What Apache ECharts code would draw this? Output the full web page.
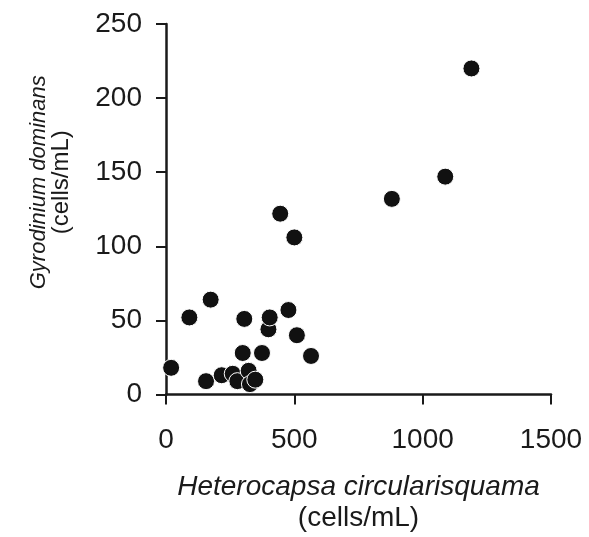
<!DOCTYPE html>
<html>
<head>
<meta charset="utf-8">
<script src="https://cdn.jsdelivr.net/npm/echarts@6/dist/echarts.min.js"></script>
<style>
  html, body { margin: 0; padding: 0; background: #fff; }
  #chart { width: 589px; height: 537px; }
</style>
</head>
<body>
<div id="chart"></div>
<script>
// Heterocapsa circularisquama (x) vs Gyrodinium dominans (y), cells/mL
const heteroCells = [20, 91, 156, 174, 217, 260, 278, 299, 305, 322, 327, 348, 374, 399, 404, 445, 477, 500, 510, 565, 880, 1088, 1190]
const gyroCells = [18, 52, 9, 64, 13, 14, 9, 28, 51, 16, 7, 10, 28, 44, 52, 122, 57, 106, 40, 26, 132, 147, 220]
const xTicks = [0, 500, 1000, 1500]
const yTicks = [0, 50, 100, 150, 200, 250]

const points = heteroCells.map((x, i) => [x, gyroCells[i]])

const font = 'Liberation Sans'
const ink = '#1a1a1a'

const chart = echarts.init(document.getElementById('chart'))
chart.setOption({
  animation: false,
  grid: { left: 166, right: 38, top: 24, bottom: 140, containLabel: false },
  xAxis: {
    type: 'value',
    min: xTicks[0],
    max: xTicks[xTicks.length - 1],
    interval: xTicks[1] - xTicks[0],
    name: '{a|Heterocapsa circularisquama}\n{b|(cells/mL)}',
    nameLocation: 'middle',
    nameGap: 77,
    nameTextStyle: {
      rich: {
        a: { fontFamily: font, fontSize: 28, fontStyle: 'italic', color: ink, lineHeight: 31 },
        b: { fontFamily: font, fontSize: 28, color: ink, lineHeight: 31 }
      }
    },
    axisLine: { lineStyle: { color: ink, width: 2.5 } },
    axisTick: { length: 10, lineStyle: { color: ink, width: 2 } },
    axisLabel: { margin: 32, fontFamily: font, fontSize: 28, color: ink, formatter: v => String(v) },
    splitLine: { show: false }
  },
  yAxis: {
    type: 'value',
    min: yTicks[0],
    max: yTicks[yTicks.length - 1],
    interval: yTicks[1] - yTicks[0],
    name: '{a|Gyrodinium dominans}\n{b|(cells/mL)}',
    nameLocation: 'middle',
    nameRotate: 90,
    nameGap: 94,
    nameTextStyle: {
      // nudge the title a little above the axis centre, as in the figure
      padding: [0, 0, 0, 54],
      rich: {
        a: { fontFamily: font, fontSize: 22, fontStyle: 'italic', color: ink, lineHeight: 22 },
        b: { fontFamily: font, fontSize: 24, color: ink, lineHeight: 22 }
      }
    },
    axisLine: { lineStyle: { color: ink, width: 2.5 } },
    axisTick: { length: 10, lineStyle: { color: ink, width: 2 } },
    axisLabel: { margin: 24, fontFamily: font, fontSize: 28, color: ink },
    splitLine: { show: false }
  },
  series: [{
    type: 'scatter',
    data: points,
    symbol: 'circle',
    symbolSize: 17,
    itemStyle: { color: '#111', borderColor: '#fff', borderWidth: 1, opacity: 1 }
  }]
})
</script>
</body>
</html>
